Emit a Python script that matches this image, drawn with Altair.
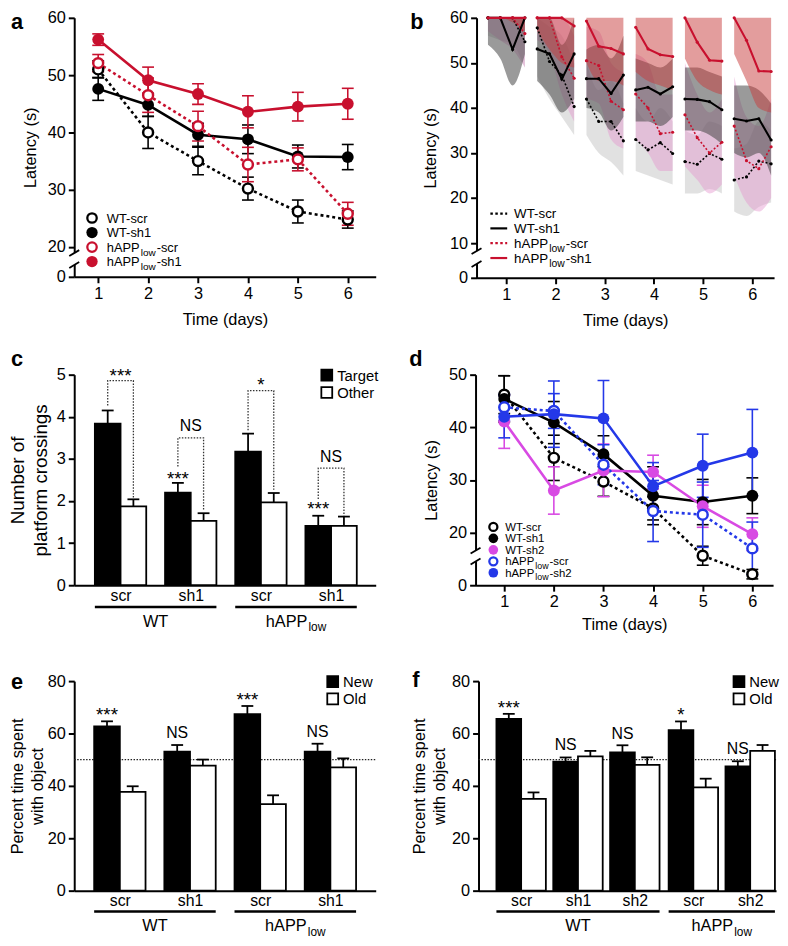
import altair as alt
import pandas as pd

FONT = "Liberation Sans"
RED = "#c8102e"
MAGENTA = "#d84ae3"
BLUE = "#2438e8"
BLACK = "#000000"
DUMMY = pd.DataFrame({"k": [0]})
AX_FS = 16.5

days = [1, 2, 3, 4, 5, 6]

# ---------------- panel a : latency (s), mean +/- s.e.m. ----------------
a_names = ["WT-scr", "WT-sh1", "hAPPlow-scr", "hAPPlow-sh1"]
a_wt_scr = [51.0, 40.0, 35.0, 30.2, 26.2, 24.8]
a_wt_scr_err = [1.5, 2.8, 2.4, 2.0, 2.0, 1.5]
a_wt_sh1 = [47.6, 44.8, 39.6, 38.8, 35.8, 35.7]
a_wt_sh1_err = [2.0, 2.0, 2.0, 2.5, 2.0, 2.2]
a_happ_scr = [52.1, 46.5, 41.1, 34.4, 35.3, 25.8]
a_happ_scr_err = [1.5, 3.0, 2.6, 3.0, 2.0, 2.0]
a_happ_sh1 = [56.2, 49.1, 46.7, 43.6, 44.5, 45.0]
a_happ_sh1_err = [1.0, 2.3, 1.8, 2.8, 2.5, 2.7]

# ---------------- panel b : per-trial latency with spread bands ----------------
b_trial_offsets = [-0.37, -0.12, 0.13, 0.38]
b_names = ["WT-scr", "WT-sh1", "hAPPlow-scr", "hAPPlow-sh1"]
b_wt_scr = [60, 60, 60, 54.7, 57.8, 50.3, 47.3, 40.3, 42.0, 37.0, 37.0, 32.7,
            33.0, 30.7, 32.3, 29.9, 28.1, 27.5, 29.9, 28.6, 24.0, 24.7, 28.2, 27.6]
b_wt_scr_lo = [56, 55, 54, 49, 47, 42, 38, 34, 34, 30, 28, 25,
               26, 25, 24, 23, 21, 21, 22, 21, 17, 16, 18, 19]
b_wt_scr_hi = [60, 60, 60, 60, 60, 58, 56, 50, 50, 44, 46, 41,
               40, 37, 40, 37, 35, 34, 37, 36, 31, 32, 37, 35]
b_wt_sh1 = [60, 60, 53.0, 60, 53.1, 52.0, 46.4, 52.0, 46.5, 46.5, 43.2, 47.3,
            44.0, 44.6, 43.1, 44.7, 42.0, 41.9, 41.4, 39.6, 37.6, 37.1, 37.6, 32.9]
b_wt_sh1_lo = [54, 51, 45, 52, 46, 43, 39, 42, 40, 39, 35, 38,
               37, 37, 36, 38, 35, 35, 34, 32, 30, 29, 30, 25]
b_wt_sh1_hi = [60, 60, 60, 60, 60, 60, 54, 60, 53, 54, 51, 56,
               51, 50, 49, 51, 49, 49, 48, 47, 45, 45, 44, 41]
b_happ_scr = [60, 60, 60, 56.5, 60, 60, 51.3, 46.6, 50.5, 49.4, 41.5, 39.6,
              43.1, 40.0, 34.3, 34.6, 38.5, 33.4, 30.0, 32.4, 36.0, 28.3, 26.5, 31.4]
b_happ_scr_lo = [57, 55, 53, 49, 55, 52, 43, 37, 42, 41, 33, 31,
                 33, 30, 26, 26, 27, 24, 21, 23, 25, 19, 17, 20]
b_happ_scr_hi = [60, 60, 60, 60, 60, 60, 60, 56, 58, 57, 50, 48,
                 52, 50, 43, 43, 50, 43, 39, 42, 47, 38, 36, 42]
b_happ_sh1 = [60, 60, 60, 60, 60, 60, 60, 58.2, 59.3, 53.7, 53.2, 52.0,
              57.9, 53.1, 51.8, 51.4, 60, 54.6, 50.6, 50.4, 60, 55.0, 48.2, 48.1]
b_happ_sh1_lo = [60, 60, 59, 57, 57, 53, 50, 49, 50, 46, 46, 45,
                 48, 46, 45, 44, 51, 46, 44, 43, 52, 46, 40, 39]
b_happ_sh1_hi = [60] * 24

# ---------------- panel c : platform crossings ----------------
c_cats = ["scr", "sh1", "scr", "sh1"]
c_target = [3.84, 2.20, 3.17, 1.41]
c_target_err = [0.31, 0.23, 0.43, 0.24]
c_other = [1.87, 1.53, 1.97, 1.41]
c_other_err = [0.17, 0.18, 0.22, 0.22]
c_br_left = [4.27, 2.82, 3.68, 2.05]
c_br_top = [4.86, 3.50, 4.62, 2.78]
c_br_right = [2.08, 1.76, 2.27, 1.65]
c_br_label = ["***", "NS", "*", "NS"]
c_br_label_y = [5.08, 3.80, 4.86, 3.07]
c_bar_label = ["", "***", "", "***"]
c_bar_label_y = [0, 2.63, 0, 1.92]

# ---------------- panel d : latency, second hairpin ----------------
d_names = ["WT-scr", "WT-sh1", "WT-sh2", "hAPPlow-scr", "hAPPlow-sh2"]
d_wt_scr = [46.2, 34.2, 29.7, 24.6, 15.6, 12.1]
d_wt_scr_err = [3.6, 4.3, 2.8, 2.2, 1.8, 0.9]
d_wt_sh1 = [45.4, 40.9, 34.9, 27.0, 25.8, 27.0]
d_wt_sh1_err = [4.4, 4.0, 3.5, 5.5, 4.3, 3.4]
d_wt_sh2 = [41.1, 28.0, 31.8, 31.5, 25.0, 19.7]
d_wt_sh2_err = [5.1, 4.5, 5.0, 3.2, 4.0, 3.1]
d_happ_scr = [43.8, 43.1, 32.9, 24.1, 23.4, 17.0]
d_happ_scr_err = [2.5, 3.3, 3.8, 5.8, 6.2, 5.0]
d_happ_sh2 = [42.0, 42.5, 41.7, 28.8, 32.7, 35.2]
d_happ_sh2_err = [4.0, 6.3, 7.2, 4.5, 6.0, 8.2]

# ---------------- panel e : novel object ----------------
e_cats = ["scr", "sh1", "scr", "sh1"]
e_new = [62.75, 53.1, 67.4, 53.1]
e_new_err = [1.9, 2.5, 3.1, 3.0]
e_old = [37.75, 47.75, 33.0, 47.1]
e_old_err = [2.1, 2.3, 3.4, 3.4]
e_sig = ["***", "NS", "***", "NS"]
e_sig_y = [69.0, 60.3, 74.6, 60.9]

# ---------------- panel f : novel object, second hairpin ----------------
f_cats = ["scr", "sh1", "sh2", "scr", "sh2"]
f_new = [65.6, 49.25, 52.75, 61.25, 47.4]
f_new_err = [1.9, 1.6, 2.75, 3.35, 2.0]
f_old = [35.0, 51.25, 48.0, 39.4, 53.4]
f_old_err = [2.5, 2.1, 2.9, 3.35, 2.2]
f_sig = ["***", "NS", "NS", "*", "NS"]
f_sig_y = [71.5, 55.9, 60.0, 69.0, 54.2]

chance_level = [50]


def axis_style(**kw):
    d = dict(domainColor="black", domainWidth=2, tickColor="black", tickWidth=2, tickSize=6,
             labelFont=FONT, labelFontSize=AX_FS, labelColor="black", labelPadding=3,
             labelFlush=False, titleFont=FONT, titleFontSize=AX_FS, titleFontWeight="normal",
             titleColor="black", grid=False)
    d.update(kw)
    return alt.Axis(**d)


def text_at(s, x, y, size=15, align="left", weight="normal", color="black"):
    return alt.Chart(DUMMY).mark_text(
        text=s, align=align, baseline="alphabetic", font=FONT, fontSize=size,
        fontWeight=weight, color=color).encode(x=alt.value(x), y=alt.value(y))


def happ_text(x, y, size, suffix):
    sub = round(size * 0.78, 1)
    w1 = 2.557 * size + 1
    w2 = 1.5 * sub + 1
    out = [text_at("hAPP", x, y, size), text_at("low", x + w1, y + size * 0.3, sub)]
    if suffix:
        out.append(text_at(suffix, x + w1 + w2, y, size))
    return out


def legend_text(label, x, y, size):
    if label.startswith("hAPPlow"):
        return happ_text(x, y, size, label[len("hAPPlow"):])
    return [text_at(label, x, y, size)]


def marker(x, y, color, open_pt, size):
    if open_pt:
        return alt.Chart(DUMMY).mark_point(
            shape="circle", filled=True, fill="white", stroke=color, strokeWidth=2.3,
            size=size * 0.7, opacity=1).encode(x=alt.value(x), y=alt.value(y))
    return alt.Chart(DUMMY).mark_circle(color=color, size=size, opacity=1).encode(
        x=alt.value(x), y=alt.value(y))


def axis_break(y1, y2):
    gap = alt.Chart(DUMMY).mark_rule(color="white", strokeWidth=5).encode(
        x=alt.value(0), y=alt.value(y1), y2=alt.value(y2))
    out = [gap]
    for yc in (y1, y2):
        out.append(alt.Chart(DUMMY).mark_rule(color="black", strokeWidth=1.8).encode(
            x=alt.value(-5), x2=alt.value(5), y=alt.value(yc + 3), y2=alt.value(yc - 3)))
    return out


def line_panel(series, xdom, ydom, yvals, cut, W, H, xpad, ypad, letter, letter_x, letter_y,
               leg_x, leg_tx, leg_y0, leg_dy, leg_font, leg_size, brk, pt_size):
    xs = alt.Scale(domain=xdom, nice=False, zero=False)
    ys = alt.Scale(domain=ydom, nice=False, zero=False)
    xa = axis_style(values=days, title="Time (days)", titlePadding=xpad)
    ya = axis_style(values=yvals, title="Latency (s)", titlePadding=ypad,
                    labelExpr=f"datum.value < {cut} ? '0' : datum.label")

    def E(xf, yf):
        return dict(x=alt.X(xf, type="quantitative", scale=xs, axis=xa),
                    y=alt.Y(yf, type="quantitative", scale=ys, axis=ya))

    errs, lines, pts = [], [], []
    for name, vals, ev, color, dotted, open_pt in series:
        lo = [v - e for v, e in zip(vals, ev)]
        hi = [v + e for v, e in zip(vals, ev)]
        df = pd.DataFrame({"day": days, "v": vals, "lo": lo, "hi": hi})
        caps = pd.DataFrame({"day": days + days, "c": lo + hi})
        errs.append(alt.Chart(df).mark_rule(color=color, strokeWidth=1.6).encode(
            **E("day", "lo"), y2="hi"))
        errs.append(alt.Chart(caps).mark_tick(color=color, orient="horizontal", size=12,
                                              thickness=1.6, opacity=1).encode(**E("day", "c")))
        kw = dict(color=color, strokeWidth=2.6)
        if dotted:
            kw["strokeDash"] = [3, 3]
        lines.append(alt.Chart(df).mark_line(**kw).encode(**E("day", "v")))
        if open_pt:
            pts.append(alt.Chart(df).mark_point(shape="circle", filled=True, fill="white",
                                                stroke=color, strokeWidth=2.5,
                                                size=pt_size * 0.7, opacity=1).encode(**E("day", "v")))
        else:
            pts.append(alt.Chart(df).mark_circle(color=color, size=pt_size, opacity=1).encode(
                **E("day", "v")))
    layers = errs + lines + pts
    for i, (name, vals, ev, color, dotted, open_pt) in enumerate(series):
        yy = leg_y0 + i * leg_dy
        layers.append(marker(leg_x, yy, color, open_pt, leg_size))
        layers += legend_text(name, leg_tx, yy + leg_font * 0.36, leg_font)
    layers += axis_break(*brk)
    layers.append(text_at(letter, letter_x, letter_y, 22, weight="bold"))
    return alt.layer(*layers).properties(width=W, height=H)


# ---------- panel a ----------
a_series = [
    (a_names[0], a_wt_scr, a_wt_scr_err, BLACK, True, True),
    (a_names[1], a_wt_sh1, a_wt_sh1_err, BLACK, False, False),
    (a_names[2], a_happ_scr, a_happ_scr_err, RED, True, True),
    (a_names[3], a_happ_sh1, a_happ_sh1_err, RED, False, False),
]
panel_a = line_panel(a_series, [0.52, 6.56], [14.8, 60], [14.8, 20, 30, 40, 50, 60], 17,
                     305, 262, 10, 9, "a", -64, 11.5, 18, 33, 202.5, 14.7, 13, 130, (238, 250), 144)

# ---------- panel d ----------
d_series = [
    (d_names[0], d_wt_scr, d_wt_scr_err, BLACK, True, True),
    (d_names[1], d_wt_sh1, d_wt_sh1_err, BLACK, False, False),
    (d_names[2], d_wt_sh2, d_wt_sh2_err, MAGENTA, False, False),
    (d_names[3], d_happ_scr, d_happ_scr_err, BLUE, True, True),
    (d_names[4], d_happ_sh2, d_happ_sh2_err, BLUE, False, False),
]
panel_d = line_panel(d_series, [0.422, 6.418], [10, 50], [10, 20, 30, 40, 50], 12,
                     301, 213, 6, 9, "d", -67, -9, 18, 30, 154, 11.6, 11.5, 95, (178, 189), 144)


# ---------- panel b ----------
def panel_b():
    W, H = 301, 263
    xs = alt.Scale(domain=[0.398, 6.44], nice=False, zero=False)
    ys = alt.Scale(domain=[2.3, 60], nice=False, zero=False)
    xa = axis_style(values=days, title="Time (days)", titlePadding=10)
    ya = axis_style(values=[2.3, 10, 20, 30, 40, 50, 60], title="Latency (s)", titlePadding=11,
                    labelExpr="datum.value < 5 ? '0' : datum.label")

    def E(xf, yf):
        return dict(x=alt.X(xf, type="quantitative", scale=xs, axis=xa),
                    y=alt.Y(yf, type="quantitative", scale=ys, axis=ya))

    bx = [d + o for d in days for o in b_trial_offsets]
    bday = [d for d in days for _ in b_trial_offsets]
    groups = [
        (b_wt_scr, b_wt_scr_lo, b_wt_scr_hi, "#bdbdbd", 0.45, BLACK, True),
        (b_happ_scr, b_happ_scr_lo, b_happ_scr_hi, "#e596cf", 0.45, RED, True),
        (b_wt_sh1, b_wt_sh1_lo, b_wt_sh1_hi, "#474747", 0.55, BLACK, False),
        (b_happ_sh1, b_happ_sh1_lo, b_happ_sh1_hi, "#c83c3c", 0.5, RED, False),
    ]
    bands, lines = [], []
    for vals, lo, hi, fill, op, lc, dotted in groups:
        df = pd.DataFrame({"day": bday, "x": bx, "v": vals, "lo": lo, "hi": hi})
        bands.append(alt.Chart(df).mark_area(color=fill, opacity=op, interpolate="monotone").encode(
            **E("x", "lo"), y2="hi", detail="day:N"))
        kw = dict(color=lc, strokeWidth=1.6 if dotted else 2.1)
        if dotted:
            kw["strokeDash"] = [2, 2]
        lines.append(alt.Chart(df).mark_line(**kw).encode(**E("x", "v"), detail="day:N"))
        lines.append(alt.Chart(df).mark_circle(color=lc, size=10, opacity=1).encode(**E("x", "v")))
    layers = bands + lines
    leg = [(b_names[0], BLACK, True), (b_names[1], BLACK, False),
           (b_names[2], RED, True), (b_names[3], RED, False)]
    for i, (name, col, dotted) in enumerate(leg):
        yy = 198 + i * 15
        kw = dict(color=col, strokeWidth=2.2)
        if dotted:
            kw["strokeDash"] = [2.5, 2.5]
        layers.append(alt.Chart(DUMMY).mark_rule(**kw).encode(
            x=alt.value(14), x2=alt.value(31), y=alt.value(yy)))
        layers += legend_text(name, 38, yy + 13.5 * 0.36, 13.5)
    layers += axis_break(236, 249)
    layers.append(text_at("b", -67, 11.5, 22, weight="bold"))
    return alt.layer(*layers).properties(width=W, height=H)


# ---------- bar panels ----------
def label_expr(centers, names):
    parts = []
    for i in range(len(centers) - 1):
        t = (centers[i] + centers[i + 1]) / 2
        parts.append(f"datum.value < {t:.3f} ? '{names[i]}' : ")
    return "".join(parts) + f"'{names[-1]}'"


def bar_panel(names, centers, bar_w, unit, W, H, ydom, yvals, ytitle, ytitle_fs, ypad,
              black_v, black_e, white_v, white_e, leg_labels, leg_x, groups,
              cat_pad, line_dy, grp_dy, letter, letter_x, letter_y):
    xs = alt.Scale(domain=[0, W / unit], nice=False, zero=False)
    ys = alt.Scale(domain=ydom, nice=False, zero=False)
    xa = axis_style(values=centers, labelExpr=label_expr(centers, names), ticks=False,
                    title=None, labelPadding=cat_pad, labelFontSize=16)
    ya = axis_style(values=yvals, title=ytitle, titlePadding=ypad, titleFontSize=ytitle_fs,
                    titleLineHeight=ytitle_fs * 1.22)

    def XE(f):
        return alt.X(f, type="quantitative", scale=xs, axis=xa)

    def YE(f):
        return alt.Y(f, type="quantitative", scale=ys, axis=ya)

    blk = pd.DataFrame({"x0": [c - bar_w for c in centers], "x1": centers, "v": black_v,
                        "z": [0] * len(centers),
                        "top": [v + e for v, e in zip(black_v, black_e)],
                        "xm": [c - bar_w / 2 for c in centers]})
    wht = pd.DataFrame({"x0": centers, "x1": [c + bar_w for c in centers], "v": white_v,
                        "z": [0] * len(centers),
                        "top": [v + e for v, e in zip(white_v, white_e)],
                        "xm": [c + bar_w / 2 for c in centers]})
    layers = []
    for df, fill in ((blk, "black"), (wht, "white")):
        layers.append(alt.Chart(df).mark_rect(fill=fill, stroke="black", strokeWidth=1.8).encode(
            x=XE("x0"), x2="x1", y=YE("v"), y2="z"))
        layers.append(alt.Chart(df).mark_rule(color="black", strokeWidth=1.8).encode(
            x=XE("xm"), y=YE("v"), y2="top"))
        layers.append(alt.Chart(df).mark_tick(color="black", orient="horizontal", size=12,
                                              thickness=1.8, opacity=1).encode(
            x=XE("xm"), y=YE("top")))
    gfs = 16.5
    for gname, i0, i1 in groups:
        x0 = centers[i0] - bar_w
        x1 = centers[i1] + bar_w
        gdf = pd.DataFrame({"x0": [x0], "x1": [x1], "xm": [(x0 + x1) / 2]})
        layers.append(alt.Chart(gdf).mark_rule(color="black", strokeWidth=2.5).encode(
            x=XE("x0"), x2="x1", y=alt.value(H + line_dy)))
        base_y = H + grp_dy + gfs * 0.36
        if gname == "hAPPlow":
            sub = 12
            wt = 2.557 * gfs + 1.5 * sub + 1
            layers.append(alt.Chart(gdf).mark_text(
                text="hAPP", align="left", baseline="alphabetic", font=FONT, fontSize=gfs,
                color="black", dx=-wt / 2).encode(x=XE("xm"), y=alt.value(base_y)))
            layers.append(alt.Chart(gdf).mark_text(
                text="low", align="left", baseline="alphabetic", font=FONT, fontSize=sub,
                color="black", dx=-wt / 2 + 2.557 * gfs + 1).encode(
                x=XE("xm"), y=alt.value(base_y + 4.5)))
        else:
            layers.append(alt.Chart(gdf).mark_text(
                text=gname, align="center", baseline="alphabetic", font=FONT, fontSize=gfs,
                color="black").encode(x=XE("xm"), y=alt.value(base_y)))
    for i, (lab, fill) in enumerate(zip(leg_labels, ["black", "white"])):
        yc = 0.5 + i * 17.5
        layers.append(alt.Chart(DUMMY).mark_rect(fill=fill, stroke="black", strokeWidth=1.8).encode(
            x=alt.value(leg_x), x2=alt.value(leg_x + 11), y=alt.value(yc - 5.5),
            y2=alt.value(yc + 5.5)))
        layers.append(text_at(lab, leg_x + 16, yc + 5.4, 15))
    layers.append(text_at(letter, letter_x, letter_y, 22, weight="bold"))
    return layers, XE, YE


def sig_layers(XE, YE, xs_, ys_, labels):
    out = []
    star = pd.DataFrame([{"x": x, "y": y, "t": l}
                         for x, y, l in zip(xs_, ys_, labels) if l.startswith("*")])
    ns = pd.DataFrame([{"x": x, "y": y, "t": l}
                       for x, y, l in zip(xs_, ys_, labels) if l == "NS"])
    if len(star):
        out.append(alt.Chart(star).mark_text(font=FONT, fontSize=19, baseline="alphabetic",
                                             dy=11, color="black").encode(
            x=XE("x"), y=YE("y"), text="t:N"))
    if len(ns):
        out.append(alt.Chart(ns).mark_text(font=FONT, fontSize=16, baseline="alphabetic",
                                           dy=5.8, color="black").encode(
            x=XE("x"), y=YE("y"), text="t:N"))
    return out


# panel c
c_centers = [0.66 + i for i in range(4)]
c_bw = 0.366
c_layers, cXE, cYE = bar_panel(
    c_cats, c_centers, c_bw, 71, 305, 213, [0, 5], [0, 1, 2, 3, 4, 5],
    ["Number of", "platform crossings"], 19, 6, c_target, c_target_err, c_other, c_other_err,
    ["Target", "Other"], 250, [("WT", 0, 1), ("hAPPlow", 2, 3)], 2, 22, 36, "c", -64, -9)
br_rows = []
for i, c in enumerate(c_centers):
    xl, xr = c - c_bw / 2, c + c_bw / 2
    for k, (x, y) in enumerate([(xl, c_br_left[i]), (xl, c_br_top[i]),
                                (xr, c_br_top[i]), (xr, c_br_right[i])]):
        br_rows.append({"b": i, "o": k, "x": x, "y": y})
c_layers.append(alt.Chart(pd.DataFrame(br_rows)).mark_line(
    color="#333333", strokeWidth=1.3, strokeDash=[1.5, 1.5]).encode(
    x=cXE("x"), y=cYE("y"), detail="b:N", order="o:Q"))
c_layers += sig_layers(cXE, cYE, c_centers, c_br_label_y, c_br_label)
c_layers += sig_layers(cXE, cYE, [c - c_bw / 2 for c in c_centers], c_bar_label_y, c_bar_label)
panel_c = alt.layer(*c_layers).properties(width=305, height=213)

# panel e
e_centers = [0.65 + i for i in range(4)]
e_bw = 0.366
e_layers, eXE, eYE = bar_panel(
    e_cats, e_centers, e_bw, 71, 305, 212, [0, 80], [0, 20, 40, 60, 80],
    ["Percent time spent", "with object"], 16.5, 2, e_new, e_new_err, e_old, e_old_err,
    ["New", "Old"], 256, [("WT", 0, 1), ("hAPPlow", 2, 3)], 2, 21, 35, "e", -64, 8)
e_layers.insert(0, alt.Chart(pd.DataFrame({"y": chance_level})).mark_rule(
    color="#222222", strokeWidth=1.3, strokeDash=[1.5, 1.5]).encode(
    y=eYE("y"), x=alt.value(0), x2=alt.value(305)))
e_layers += sig_layers(eXE, eYE, [c - e_bw / 2 for c in e_centers], e_sig_y, e_sig)
panel_e = alt.layer(*e_layers).properties(width=305, height=212)

# panel f
f_centers = [0.75, 1.75, 2.75, 3.78, 4.78]
f_bw = 0.435
f_layers, fXE, fYE = bar_panel(
    f_cats, f_centers, f_bw, 57.5, 301, 212, [0, 80], [0, 20, 40, 60, 80],
    ["Percent time spent", "with object"], 16.5, 4, f_new, f_new_err, f_old, f_old_err,
    ["New", "Old"], 258, [("WT", 0, 2), ("hAPPlow", 3, 4)], 2, 21, 35, "f", -67, 6)
f_layers.insert(0, alt.Chart(pd.DataFrame({"y": chance_level})).mark_rule(
    color="#222222", strokeWidth=1.3, strokeDash=[1.5, 1.5]).encode(
    y=fYE("y"), x=alt.value(0), x2=alt.value(301)))
f_layers += sig_layers(fXE, fYE, [c - f_bw / 2 for c in f_centers], f_sig_y, f_sig)
panel_f = alt.layer(*f_layers).properties(width=301, height=212)

row1 = alt.hconcat(panel_a, panel_b(), spacing=35)
row2 = alt.hconcat(panel_c, panel_d, spacing=31)
row3 = alt.hconcat(panel_e, panel_f, spacing=35)
upper = alt.vconcat(row1, row2, spacing=19)
chart = alt.vconcat(upper, row3, spacing=36).properties(
    padding={"top": -3.5, "left": 0, "right": 0, "bottom": 0}).configure_view(stroke=None)

chart.save("out.html", embed_options={"renderer": "svg", "actions": False})
